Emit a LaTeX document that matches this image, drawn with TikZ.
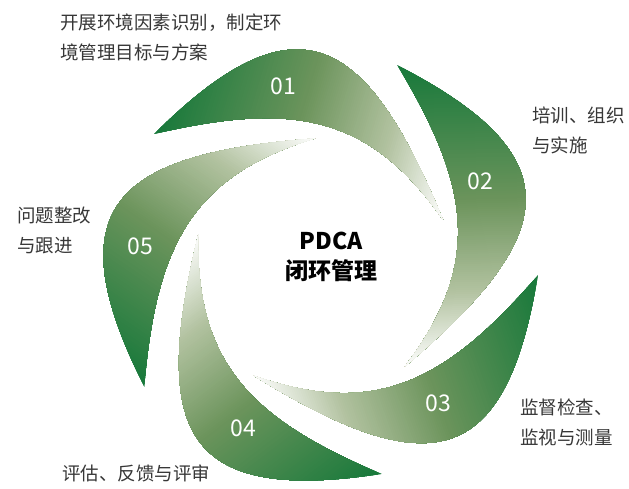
\documentclass[tikz,border=0pt]{standalone}
\usepackage{fontspec}
\setmainfont{Noto Sans CJK SC}
\definecolor{gA}{RGB}{24,121,59}
\definecolor{gB}{RGB}{108,148,92}
\definecolor{gC}{RGB}{178,194,160}
\definecolor{gW}{RGB}{255,255,255}
\definecolor{txt}{RGB}{55,55,55}
\tikzset{
 numlabel/.style={text=white, font=\fontsize{23}{23}\selectfont, inner sep=0pt},
 desc/.style={text=txt, font=\fontsize{18.5}{30}\selectfont, align=left, anchor=west, inner sep=0pt},
 titlelabel/.style={text=black, font=\bfseries\fontsize{23}{30}\selectfont, align=center, inner sep=0pt}
}
\newcommand\bladeshape{(-169,133) .. controls (-28,272) and (42,237) .. (120,47) .. controls (46,154) and (-33,165) .. (-169,133) -- cycle}
\begin{document}
\begin{tikzpicture}[x=1pt,y=1pt]
\useasboundingbox (0,0) rectangle (629,488);
\foreach \k in {0,...,4} {
  \begin{scope}[shift={(323,221)}, rotate=-72*\k]
    \clip \bladeshape;
    \begin{scope}[rotate=-16.6]
      \fill[gA] (-260,-260) rectangle (160,260);
      \foreach \i in {0,...,68} {
        \pgfmathsetmacro\s{-200+\i*2}
        \pgfmathtruncatemacro\p{100*\i/68}
        \fill[gB!\p!gA] (\s,-260) rectangle (160,260);
      }
      \foreach \i in {0,...,45} {
        \pgfmathsetmacro\s{-64+\i*90.5/45}
        \pgfmathtruncatemacro\p{100*\i/45}
        \fill[gC!\p!gB] (\s,-260) rectangle (160,260);
      }
      \foreach \i in {0,...,38} {
        \pgfmathsetmacro\s{26.5+\i*75.5/38}
        \pgfmathtruncatemacro\p{100*\i/38}
        \fill[gW!\p!gC] (\s,-260) rectangle (160,260);
      }
    \end{scope}
  \end{scope}
}
\node[numlabel] (n1) at (283,402) {01};
\node[numlabel] (n2) at (480,307) {02};
\node[numlabel] (n3) at (438,85) {03};
\node[numlabel] (n4) at (243,60) {04};
\node[numlabel] (n5) at (140,242) {05};
\node[titlelabel] (c) at (331.5,231) {PDCA\\闭环管理};
\node[desc] (t1) at (60,450.5) {开展环境因素识别，制定环\\境管理目标与方案};
\node[desc] (t2) at (532,358) {培训、组织\\与实施};
\node[desc] (t3) at (520,65.5) {监督检查、\\监视与测量};
\node[desc] (t4) at (62,15) {评估、反馈与评审};
\node[desc] (t5) at (17,257.5) {问题整改\\与跟进};
\end{tikzpicture}
\end{document}
